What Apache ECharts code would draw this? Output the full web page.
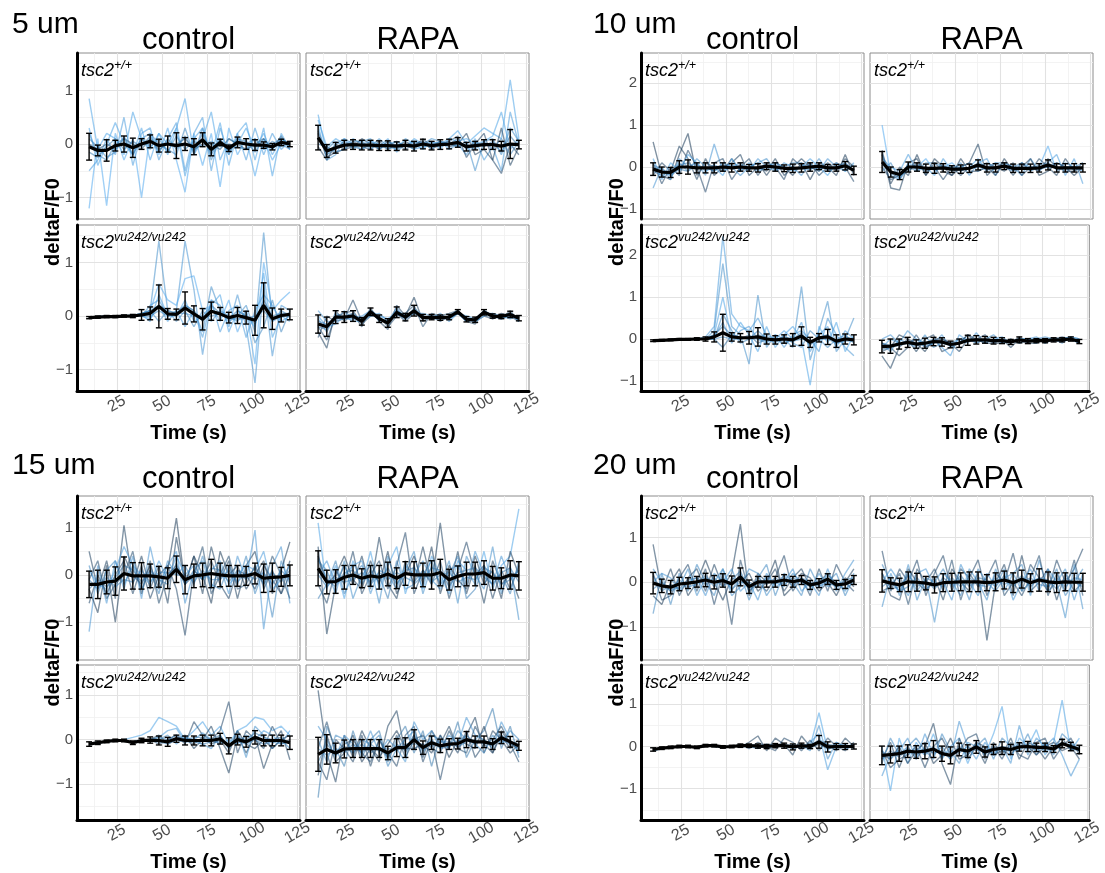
<!DOCTYPE html>
<html><head><meta charset="utf-8">
<script src="https://cdn.jsdelivr.net/npm/echarts@6/dist/echarts.min.js"></script>
<style>html,body{margin:0;padding:0;background:#fff}#c{width:1105px;height:873px}</style>
</head><body><div id="c"></div>
<script>
// ---------- shared axis data ----------
const times = [9.7, 14.5, 19.4, 24.2, 29.0, 33.9, 38.7, 43.5, 48.3, 53.2, 58.0, 62.8, 67.7, 72.5, 77.3, 82.2, 87.0, 91.8, 96.6, 101.5, 106.3, 111.1, 116.0, 120.8];
const xRange = [3, 126.4];
const xTicks = [25, 50, 75, 100, 125];
const xMinorTicks = [12.5, 37.5, 62.5, 87.5, 112.5];
const yRange_5 = [-1.40, 1.70], yTicks_5 = [-1, 0, 1], yMinor_5 = [-0.5, 0.5, 1.5];
const yRange_10 = [-1.24, 2.72], yTicks_10 = [-1, 0, 1, 2], yMinor_10 = [-0.5, 0.5, 1.5, 2.5];
const yRange_15 = [-1.80, 1.67], yTicks_15 = [-1, 0, 1], yMinor_15 = [-1.5, -0.5, 0.5, 1.5];
const yRange_20 = [-1.74, 1.93], yTicks_20 = [-1, 0, 1], yMinor_20 = [-1.5, -0.5, 0.5, 1.5];
const panelNames = ['5 um', '10 um', '15 um', '20 um'];
const colNames = ['control', 'RAPA'];

// ---------- 5 um ----------
const u5_ctrl_wt_mean = [-0.05,-0.12,-0.12,-0.03,0.0,-0.07, 0.0,0.05,-0.03,0.0,-0.03,0.0, -0.05,0.08,-0.1,0.03,-0.08,0.03, 0.0,-0.02,-0.02,-0.05,0.03,0.0];
const u5_ctrl_wt_err = [0.25,0.1,0.2,0.1,0.15,0.18, 0.1,0.12,0.12,0.15,0.24,0.12, 0.15,0.13,0.12,0.06,0.06,0.1, 0.1,0.1,0.06,0.06,0.06,0.05];
const u5_ctrl_wt_tone = [0.9,0.95,0.85,0.7,0.3,0.9,0.6,0.7];
const u5_ctrl_wt_lines = [
 [0.85,-0.1,0.2,0.1,-0.2,0.6, 0.1,-0.1,0.2,0.0,0.3,0.85, -0.2,0.1,0.6,-0.3,0.1,0.0, 0.3,-0.1,0.2,-0.2,0.1,0.0],
 [-1.2,0.1,-1.15,0.2,-0.3,0.1, -1.0,0.2,-0.2,0.3,-0.3,-0.9, 0.2,-0.4,0.2,-0.8,0.3,-0.2, 0.1,-0.6,0.1,-0.3,0.0,-0.1],
 [-0.5,-0.3,0.1,-0.2,0.5,-0.4, 0.2,0.3,-0.3,0.1,0.4,-0.5, 0.2,0.5,-0.5,0.3,-0.2,0.2, -0.3,0.3,-0.2,0.2,-0.1,0.05],
 [0.2,-0.2,-0.3,0.0,0.1,-0.2, 0.1,0.2,0.0,-0.1,-0.2,0.3, -0.2,0.3,-0.3,0.1,-0.2,0.1, 0.0,0.1,-0.1,0.0,0.1,-0.05],
 [0.0,-0.1,0.0,-0.1,0.1,0.0, -0.1,0.1,-0.1,0.0,0.0,0.1, -0.1,0.0,0.0,-0.1,0.1,0.0, -0.1,0.0,0.1,-0.1,0.15,-0.1],
 [0.3,-0.4,0.0,0.4,0.0,-0.2, 0.3,-0.3,0.2,-0.2,0.3,-0.6, 0.1,0.3,-0.2,0.4,-0.4,0.2, 0.4,-0.3,0.3,-0.6,0.2,-0.1],
 [-0.15,-0.25,-0.05,0.1,-0.1,0.05, -0.05,0.15,-0.15,0.1,-0.1,0.15, -0.15,0.2,-0.2,0.1,-0.15,0.1, 0.05,-0.15,0.1,-0.1,0.1,0.0],
 [0.1,-0.05,-0.25,-0.15,0.15,-0.2, 0.1,-0.05,0.1,-0.15,0.15,-0.1, 0.05,-0.05,0.05,-0.05,0.0,-0.05, -0.1,0.1,-0.1,0.05,-0.05,0.05]
];
const u5_rapa_wt_mean = [0.12,-0.13,-0.07,-0.02,-0.01,-0.02, -0.02,-0.03,-0.03,-0.04,-0.02,-0.04, 0.0,-0.03,-0.01,0.0,0.03,-0.05, -0.03,-0.01,-0.01,-0.04,0.0,-0.01];
const u5_rapa_wt_err = [0.23,0.12,0.1,0.09,0.09,0.09, 0.09,0.09,0.09,0.08,0.09,0.09, 0.09,0.08,0.09,0.09,0.09,0.08, 0.08,0.09,0.09,0.09,0.27,0.08];
const u5_rapa_wt_tone = [0.9,0.85,0.2,0.75,0.15,0.9,0.55,0.65];
const u5_rapa_wt_lines = [
 [0.55,-0.2,0.0,0.1,-0.1,0.05, 0.1,-0.1,0.0,0.05,-0.05,0.1, 0.0,0.05,-0.1,0.1,0.25,0.0, 0.15,0.3,0.2,0.1,1.2,0.1],
 [0.35,-0.3,-0.2,0.1,0.0,-0.1, 0.0,-0.05,0.1,-0.15,0.0,-0.1, -0.05,0.0,0.05,-0.1,0.0,-0.2, 0.1,-0.3,-0.05,-0.5,0.6,0.0],
 [0.2,-0.25,-0.15,-0.1,0.05,-0.05, -0.1,0.05,-0.1,0.0,-0.1,0.0, 0.05,-0.1,0.0,0.05,0.15,-0.25, 0.0,0.2,-0.3,-0.55,0.0,-0.2],
 [0.1,-0.1,0.05,-0.05,0.1,0.0, -0.05,0.1,-0.05,0.05,-0.05,0.05, 0.0,0.1,0.05,0.0,-0.05,0.05, -0.5,0.05,0.1,-0.2,0.3,0.05],
 [-0.05,-0.3,0.0,-0.1,-0.05,0.1, 0.0,-0.1,0.05,-0.05,0.05,-0.05, 0.1,-0.05,0.05,-0.05,0.0,0.2, -0.2,-0.1,-0.3,0.3,-0.4,-0.05],
 [0.45,-0.05,0.1,0.0,-0.05,0.0, 0.05,0.0,-0.05,-0.1,0.1,0.0, -0.1,0.05,0.0,0.1,0.05,0.1, 0.0,0.05,0.15,0.6,-0.1,0.1],
 [0.25,-0.2,-0.1,0.05,-0.05,-0.1, 0.05,-0.1,0.05,-0.1,0.0,-0.1, 0.05,-0.1,0.05,0.0,0.1,-0.1, 0.05,-0.05,0.05,-0.15,0.15,-0.05],
 [0.0,-0.05,-0.15,-0.1,0.05,0.05, -0.1,0.0,-0.1,0.0,-0.05,0.05, -0.05,0.0,-0.05,0.05,-0.05,0.0, -0.1,0.05,-0.1,0.1,-0.2,0.05]
];
const u5_ctrl_vu_mean = [-0.03,-0.02,-0.01,-0.01,0.0,0.0, 0.02,0.05,0.18,0.04,0.03,0.15, 0.04,-0.06,0.09,0.04,-0.03,0.01, -0.03,-0.08,0.2,-0.05,0.01,0.03];
const u5_ctrl_vu_err = [0.02,0.02,0.02,0.02,0.02,0.03, 0.1,0.12,0.4,0.1,0.1,0.3, 0.15,0.2,0.17,0.12,0.1,0.15, 0.12,0.28,0.42,0.2,0.12,0.1];
const u5_ctrl_vu_tone = [0.75,0.8,0.95,0.85,0.7,0.9,0.6,0.7];
const u5_ctrl_vu_lines = [
 [-0.03,-0.02,-0.01,0.0,0.0,0.01, 0.05,0.1,1.4,0.1,0.05,0.2, 0.1,-0.3,0.55,0.1,-0.1,0.0, 0.2,-0.3,1.56,-0.1,0.1,0.0],
 [-0.02,-0.01,0.0,0.0,0.01,0.0, 0.0,0.2,0.3,0.0,0.1,1.4, 0.5,-0.72,0.3,0.2,-0.2,0.4, -0.2,-1.25,0.6,-0.75,0.2,0.1],
 [-0.04,-0.02,-0.02,-0.01,0.0,0.0, 0.05,0.1,0.6,0.3,0.2,0.7, 0.75,0.1,0.2,-0.1,0.3,-0.3, 0.1,-0.9,1.0,0.1,0.3,0.45],
 [-0.03,-0.03,-0.01,0.0,0.0,0.02, 0.0,-0.05,0.2,-0.1,0.1,-0.2, 0.1,-0.4,0.3,-0.3,0.1,0.2, -0.4,0.1,0.4,0.2,-0.1,0.0],
 [-0.02,-0.02,0.0,0.0,0.0,0.0, 0.03,0.1,-0.1,0.1,-0.1,0.1, -0.2,0.1,-0.1,0.1,0.0,-0.1, 0.1,-0.5,-0.2,0.3,-0.3,0.1],
 [-0.03,-0.01,-0.01,0.0,0.01,0.0, 0.02,-0.1,0.4,0.0,0.0,0.3, -0.1,0.0,0.2,0.4,-0.3,0.1, 0.0,-0.2,0.8,-0.4,0.0,-0.1],
 [-0.03,-0.02,-0.01,0.0,0.0,0.0, 0.05,0.1,0.2,0.1,0.05,0.2, 0.1,-0.1,0.2,0.05,-0.05,0.1, 0.0,-0.15,0.3,0.0,0.05,0.05],
 [-0.02,-0.02,-0.01,-0.01,0.0,0.01, 0.0,0.0,0.1,0.0,0.05,0.05, 0.0,0.0,0.0,0.05,-0.05,-0.05, -0.05,0.0,0.1,-0.1,0.0,0.0]
];
const u5_rapa_vu_mean = [-0.15,-0.2,-0.02,-0.02,0.0,-0.1, 0.08,-0.05,-0.13,0.07,-0.02,0.1, -0.03,-0.02,-0.03,-0.02,0.08,-0.06, -0.07,0.07,0.0,-0.01,0.03,-0.04];
const u5_rapa_vu_err = [0.17,0.18,0.12,0.1,0.1,0.07, 0.07,0.07,0.08,0.1,0.07,0.1, 0.06,0.05,0.05,0.05,0.04,0.05, 0.05,0.05,0.04,0.04,0.06,0.05];
const u5_rapa_vu_tone = [0.15,0.8,0.25,0.7,0.2,0.85,0.55,0.65];
const u5_rapa_vu_lines = [
 [-0.3,-0.6,0.1,-0.1,0.05,-0.2, 0.15,-0.1,-0.25,0.2,0.0,0.35, -0.1,0.0,-0.1,0.0,0.1,-0.1, -0.15,0.1,0.0,-0.05,0.1,-0.1],
 [0.1,-0.1,-0.1,0.1,-0.05,0.0, 0.1,0.0,-0.05,0.05,-0.05,0.05, 0.0,-0.05,0.05,-0.1,0.05,0.0, -0.05,0.05,0.05,0.0,-0.05,0.0],
 [-0.2,-0.45,0.0,0.05,0.1,-0.15, 0.0,0.0,-0.2,0.0,0.05,0.2, -0.2,0.05,0.0,0.05,0.1,-0.05, -0.1,0.0,-0.05,0.05,0.0,-0.1],
 [-0.05,-0.3,0.05,-0.05,0.0,-0.05, 0.1,-0.1,-0.1,0.15,-0.05,0.15, 0.0,-0.05,-0.05,0.0,0.1,-0.1, -0.05,0.1,0.0,0.0,0.05,-0.05],
 [-0.4,0.0,-0.1,-0.05,0.3,-0.1, 0.05,-0.05,-0.1,0.05,-0.1,0.05, -0.05,0.0,-0.05,-0.05,0.05,-0.1, -0.1,0.1,-0.05,0.0,0.0,-0.05],
 [0.0,-0.2,-0.15,0.0,-0.1,-0.1, 0.0,0.05,-0.1,0.1,0.0,0.05, 0.05,0.0,0.0,-0.05,0.05,-0.05, -0.1,0.0,0.05,-0.05,0.05,-0.1],
 [-0.2,-0.25,0.0,0.0,0.05,-0.1, 0.1,-0.05,-0.15,0.1,0.0,0.1, -0.05,0.0,-0.05,0.0,0.1,-0.05, -0.1,0.1,0.0,0.0,0.05,-0.05],
 [-0.1,-0.15,-0.05,-0.05,-0.05,-0.1, 0.05,-0.05,-0.1,0.05,-0.05,0.1, 0.0,-0.05,0.0,-0.05,0.05,-0.1, -0.05,0.05,0.0,-0.05,0.0,-0.05]
];

// ---------- 10 um ----------
const u10_ctrl_wt_mean = [-0.05,-0.12,-0.13,0.0,0.0,-0.02, -0.02,-0.02,0.0,-0.02,0.0,-0.02, -0.02,0.02,0.0,-0.03,-0.03,-0.02, 0.0,0.02,-0.02,-0.02,0.03,-0.08];
const u10_ctrl_wt_err = [0.15,0.12,0.12,0.15,0.17,0.12, 0.12,0.12,0.1,0.1,0.1,0.08, 0.1,0.08,0.1,0.08,0.1,0.1, 0.1,0.08,0.08,0.08,0.1,0.1];
const u10_ctrl_wt_tone = [0.1,0.8,0.2,0.75,0.15,0.9,0.55,0.65];
const u10_ctrl_wt_lines = [
 [0.6,-0.2,-0.3,0.3,0.8,-0.2, 0.1,0.0,-0.1,0.2,-0.1,0.0, 0.1,-0.2,0.1,0.0,-0.2,0.1, -0.3,0.1,0.0,-0.2,0.3,-0.2],
 [-0.5,0.0,-0.3,0.2,0.0,0.1, -0.2,0.55,-0.1,0.0,0.1,-0.1, 0.2,0.0,-0.1,0.1,0.0,-0.2, 0.1,-0.1,0.2,0.0,-0.1,0.1],
 [0.1,-0.4,0.0,-0.2,0.4,0.0, -0.6,0.1,0.2,-0.3,0.0,0.2, -0.2,0.1,0.0,-0.3,0.2,0.0, 0.1,-0.2,0.0,0.1,0.0,-0.35],
 [0.0,-0.1,-0.2,0.1,-0.1,0.2, 0.0,-0.1,0.1,0.0,-0.2,0.0, 0.1,0.2,-0.1,0.0,0.1,0.1, -0.1,0.2,-0.1,0.0,0.1,-0.1],
 [-0.2,0.1,-0.1,0.5,0.2,-0.3, 0.2,-0.2,0.0,0.1,0.3,-0.2, 0.0,-0.1,0.2,-0.2,0.0,0.2, 0.0,-0.1,0.1,-0.1,0.2,0.0],
 [0.2,-0.3,0.1,-0.1,0.3,0.1, -0.1,0.0,-0.2,0.2,-0.1,0.1, -0.1,0.0,0.1,0.0,-0.1,0.0, 0.2,0.0,-0.2,0.1,-0.1,0.05],
 [-0.1,-0.2,-0.1,0.05,0.1,-0.05, 0.0,-0.1,0.05,-0.05,0.05,-0.05, 0.0,0.05,-0.05,0.0,-0.05,0.0, 0.05,-0.05,0.0,-0.05,0.1,-0.1],
 [0.05,-0.05,-0.2,-0.05,-0.1,0.05, -0.05,0.05,-0.05,0.05,-0.05,0.0, -0.05,0.0,0.05,-0.05,0.0,-0.05, -0.05,0.05,-0.05,0.0,0.0,-0.05]
];
const u10_rapa_wt_mean = [0.12,-0.12,-0.18,0.0,0.0,-0.03, -0.03,-0.02,-0.05,-0.05,-0.03,0.05, -0.02,-0.02,0.02,-0.03,-0.03,-0.03, -0.02,0.05,-0.02,-0.02,-0.02,-0.02];
const u10_rapa_wt_err = [0.25,0.12,0.12,0.12,0.1,0.1, 0.12,0.1,0.08,0.1,0.1,0.12, 0.1,0.1,0.08,0.1,0.1,0.1, 0.1,0.12,0.1,0.1,0.1,0.1];
const u10_rapa_wt_tone = [0.95,0.15,0.85,0.2,0.7,0.1,0.55,0.65];
const u10_rapa_wt_lines = [
 [1.0,-0.2,-0.3,0.1,0.0,0.2, -0.1,0.0,0.1,-0.1,0.0,0.2, -0.1,0.1,0.0,-0.1,0.1,0.0, 0.0,0.5,-0.1,0.1,0.0,-0.1],
 [0.4,-0.5,-0.55,0.1,0.2,-0.2, 0.1,-0.1,-0.2,0.0,0.1,0.55, -0.2,0.0,0.1,-0.2,0.1,-0.1, 0.2,0.0,-0.2,0.2,-0.1,0.0],
 [0.2,0.0,-0.1,0.3,-0.1,0.0, -0.2,0.2,-0.1,0.1,-0.2,0.1, 0.2,-0.2,0.1,0.0,-0.2,0.2, -0.1,0.1,0.3,-0.2,0.2,-0.4],
 [0.0,-0.3,-0.2,-0.1,0.1,-0.1, 0.0,-0.3,0.0,-0.2,0.0,0.0, 0.1,0.0,-0.1,0.1,-0.2,0.0, -0.1,0.2,0.0,-0.1,-0.1,0.1],
 [-0.1,0.1,-0.3,0.0,-0.1,0.1, 0.1,0.0,0.0,0.0,0.1,-0.1, 0.0,0.1,0.1,0.0,0.1,-0.1, 0.0,0.0,0.1,0.0,0.0,0.1],
 [0.3,-0.4,0.0,-0.2,0.3,-0.2, 0.2,0.0,-0.2,0.2,-0.1,-0.1, 0.0,-0.2,0.2,-0.1,0.0,0.2, -0.2,-0.1,0.1,0.0,-0.2,0.0],
 [0.3,-0.15,-0.25,0.05,-0.05,0.0, -0.05,0.05,-0.1,0.0,-0.05,0.1, 0.0,-0.05,0.05,-0.05,0.0,-0.05, 0.05,0.1,-0.05,0.0,0.0,-0.05],
 [0.05,-0.1,-0.15,-0.05,0.05,-0.05, 0.0,-0.05,0.0,-0.1,0.0,0.0, -0.05,0.0,0.0,-0.05,-0.05,0.0, -0.05,0.0,0.0,-0.05,-0.05,0.0]
];
const u10_ctrl_vu_mean = [-0.04,-0.03,-0.02,-0.01,-0.01,0.0, 0.0,0.05,0.15,0.05,0.03,0.03, 0.05,0.0,-0.02,0.0,-0.02,0.07, -0.08,0.03,0.05,-0.05,0.0,-0.02];
const u10_ctrl_vu_err = [0.02,0.02,0.02,0.02,0.02,0.03, 0.05,0.12,0.44,0.1,0.1,0.15, 0.22,0.12,0.1,0.1,0.15,0.22, 0.12,0.1,0.18,0.15,0.12,0.12];
const u10_ctrl_vu_tone = [0.85,0.75,0.9,0.8,0.7,0.5,0.6,0.7];
const u10_ctrl_vu_lines = [
 [-0.04,-0.03,-0.02,-0.01,0.0,0.0, 0.05,0.3,2.45,0.6,0.3,0.2, 0.5,0.1,0.0,0.2,0.0,0.4, -0.3,0.1,0.3,-0.2,0.2,0.0],
 [-0.03,-0.03,-0.01,0.0,0.0,0.01, 0.0,0.2,1.8,0.3,0.1,-0.6, 1.05,-0.2,0.1,0.0,-0.2,1.25, -0.5,0.2,0.9,-0.3,0.0,0.5],
 [-0.05,-0.02,-0.02,-0.01,0.0,0.0, 0.02,0.1,1.0,0.0,0.4,0.1, -0.3,0.3,-0.2,0.1,0.3,0.0, -1.1,0.3,-0.1,0.4,-0.3,0.1],
 [-0.04,-0.02,-0.01,0.0,0.0,0.0, 0.0,0.05,0.4,-0.1,0.2,0.3, 0.0,-0.1,0.1,-0.2,0.1,0.2, 0.0,-0.3,0.5,0.1,-0.2,-0.4],
 [-0.03,-0.03,-0.02,-0.01,0.0,0.0, 0.01,0.0,0.6,0.2,-0.1,0.0, 0.2,0.0,-0.1,0.1,-0.1,-0.2, 0.2,0.0,-0.2,0.0,0.1,-0.1],
 [-0.04,-0.03,-0.02,-0.01,-0.01,0.0, 0.0,0.0,-0.2,0.1,0.0,0.1, -0.1,0.0,0.0,-0.1,0.0,0.1, -0.1,0.0,0.1,-0.1,0.0,0.0],
 [-0.04,-0.03,-0.02,-0.01,-0.01,0.0, 0.0,0.1,0.3,0.1,0.05,0.0, 0.1,0.05,-0.05,0.05,0.0,0.15, -0.15,0.05,0.1,-0.05,0.05,0.0],
 [-0.04,-0.03,-0.02,-0.01,0.0,0.0, 0.0,0.0,0.05,0.0,0.0,0.05, 0.0,-0.05,0.0,-0.05,-0.05,0.0, -0.05,0.0,0.0,-0.1,-0.05,-0.05]
];
const u10_rapa_vu_mean = [-0.18,-0.17,-0.12,-0.08,-0.12,-0.1, -0.06,-0.07,-0.13,-0.1,-0.03,-0.02, -0.02,-0.04,-0.04,-0.07,-0.02,-0.05, -0.04,-0.04,-0.02,-0.02,0.0,-0.06];
const u10_rapa_vu_err = [0.15,0.17,0.12,0.12,0.1,0.12, 0.1,0.1,0.08,0.1,0.12,0.1, 0.08,0.08,0.07,0.06,0.07,0.06, 0.05,0.05,0.05,0.05,0.05,0.05];
const u10_rapa_vu_tone = [0.15,0.8,0.2,0.75,0.85,0.1,0.55,0.65];
const u10_rapa_vu_lines = [
 [-0.4,-0.7,-0.2,0.0,-0.3,0.0, 0.1,-0.3,-0.2,-0.1,0.1,-0.1, 0.0,-0.1,0.0,-0.2,0.0,-0.1, -0.1,0.0,-0.05,0.0,0.05,-0.1],
 [0.0,0.1,-0.1,0.2,0.0,-0.2, -0.1,0.1,-0.2,0.0,-0.1,0.15, -0.1,0.0,-0.1,0.0,-0.1,0.0, 0.0,0.05,0.0,-0.1,0.05,0.0],
 [-0.3,-0.2,-0.4,-0.2,0.1,-0.2, -0.1,0.0,-0.1,-0.3,0.0,0.0, 0.1,-0.1,0.0,-0.1,0.05,-0.1, 0.0,-0.1,0.0,0.05,0.0,-0.05],
 [-0.1,-0.3,0.0,-0.1,-0.2,0.1, -0.2,-0.1,-0.1,0.0,0.0,-0.1, 0.0,0.1,-0.1,-0.05,0.0,0.0, -0.1,0.0,0.0,0.0,0.0,-0.1],
 [-0.2,0.0,-0.1,-0.1,0.0,-0.1, 0.0,-0.2,-0.4,0.1,-0.05,0.0, -0.1,0.0,0.05,-0.1,0.0,0.0, 0.05,-0.1,0.0,0.0,0.05,0.0],
 [-0.1,-0.2,0.1,0.0,-0.1,-0.3, 0.0,0.0,-0.1,-0.1,0.1,0.0, -0.1,-0.1,-0.1,0.0,-0.1,-0.05, 0.0,0.0,-0.05,-0.05,0.0,-0.1],
 [-0.25,-0.2,-0.15,-0.1,-0.15,-0.1, -0.05,-0.1,-0.15,-0.1,-0.05,0.0, -0.05,-0.05,-0.05,-0.1,0.0,-0.05, -0.05,-0.05,0.0,-0.05,0.0,-0.05],
 [-0.1,-0.15,-0.1,-0.05,-0.1,-0.15, -0.1,-0.05,-0.1,-0.1,-0.05,-0.05, 0.0,-0.05,-0.05,-0.05,-0.05,-0.05, -0.05,-0.05,-0.05,0.0,0.0,-0.1]
];

// ---------- 15 um ----------
const u15_ctrl_wt_mean = [-0.2,-0.2,-0.15,-0.13,0.03,-0.02, -0.02,-0.02,-0.04,-0.07,0.12,-0.1, -0.02,0.0,0.03,0.0,-0.02,-0.02, -0.02,0.03,-0.07,-0.05,-0.04,-0.01];
const u15_ctrl_wt_err = [0.28,0.3,0.25,0.3,0.35,0.28, 0.28,0.25,0.22,0.22,0.28,0.3, 0.25,0.25,0.3,0.25,0.22,0.22, 0.2,0.22,0.3,0.3,0.2,0.22];
const u15_ctrl_wt_tone = [0.15,0.8,0.1,0.7,0.2,0.85,0.25,0.55,0.65];
const u15_ctrl_wt_lines = [
 [0.5,-0.3,0.3,-0.5,1.05,-0.2, 0.4,-0.3,0.2,-0.6,0.8,-0.2, 0.4,-0.4,0.6,-0.1,0.3,-0.5, 0.2,0.5,-0.3,0.1,-0.4,0.3],
 [-1.2,0.2,-0.6,0.3,-0.3,0.4, -0.5,0.6,-0.2,0.2,0.5,-0.6, 0.1,0.3,-0.3,0.2,-0.4,0.4, -0.1,0.95,-1.15,0.2,0.6,-0.6],
 [-0.3,-0.8,0.2,-1.0,0.4,0.0, -0.2,0.2,-0.3,0.1,1.2,-0.2, 0.4,0.0,-0.6,0.5,0.0,0.2, -0.3,0.0,0.3,-0.4,0.1,0.7],
 [0.2,-0.4,0.1,0.3,-0.2,0.2, -0.3,0.1,-0.4,0.3,0.0,0.2, -0.2,0.4,-0.2,-0.3,0.2,-0.2, 0.4,-0.4,0.1,-0.9,0.3,-0.2],
 [-0.6,0.0,-0.4,0.0,0.3,-0.4, 0.2,-0.5,0.0,0.2,-0.3,-1.28, 0.1,-0.1,0.3,-0.2,-0.5,0.1, 0.0,-0.3,0.2,-0.1,-0.4,0.0],
 [0.1,-0.2,-0.3,0.1,0.6,0.2, 0.0,-0.2,0.3,-0.1,0.4,0.0, 0.2,-0.1,0.1,0.3,-0.2,0.0, 0.2,0.1,0.5,-0.3,-0.1,0.2],
 [-0.1,0.3,-0.5,-0.2,0.0,0.5, -0.4,0.3,-0.6,0.0,0.2,-0.2, 0.0,0.6,-0.4,0.0,0.4,-0.3, -0.2,0.2,-0.2,0.4,0.0,-0.5],
 [-0.3,-0.1,-0.25,-0.05,0.2,0.1, -0.15,0.1,-0.1,-0.2,0.25,-0.2, 0.1,-0.1,0.15,0.1,-0.15,0.1, -0.1,0.15,-0.2,0.05,-0.15,0.1],
 [-0.1,-0.3,-0.05,-0.25,-0.1,-0.15, 0.1,-0.15,0.05,0.05,0.0,0.0, -0.15,0.1,-0.1,-0.1,0.1,-0.15, 0.05,-0.1,0.05,-0.2,0.1,-0.1]
];
const u15_rapa_wt_mean = [0.14,-0.15,-0.14,-0.05,0.0,-0.07, -0.02,-0.05,0.02,-0.07,0.03,0.0, 0.0,0.0,0.05,-0.1,-0.03,0.02, 0.02,0.05,-0.07,-0.07,0.0,-0.02];
const u15_rapa_wt_err = [0.37,0.25,0.25,0.25,0.2,0.2, 0.22,0.25,0.25,0.22,0.25,0.28, 0.25,0.3,0.28,0.22,0.22,0.25, 0.25,0.25,0.25,0.22,0.3,0.3];
const u15_rapa_wt_tone = [0.9,0.15,0.75,0.2,0.8,0.1,0.65,0.55,0.6];
const u15_rapa_wt_lines = [
 [1.1,-0.3,0.2,-0.5,0.3,-0.2, 0.5,-0.3,0.2,0.6,-0.4,0.2, -0.3,0.4,0.0,-0.4,0.3,0.1, -0.2,0.5,-0.3,0.2,0.4,1.4],
 [0.6,-1.25,-0.2,0.2,-0.2,0.4, -0.3,0.8,-0.2,-0.5,0.3,-0.2, 0.6,-0.2,1.1,-0.3,0.5,-0.4, 0.2,-0.6,0.3,-0.2,0.0,-0.5],
 [0.3,0.1,-0.4,0.3,-0.5,0.0, 0.2,-0.6,0.4,-0.2,0.1,0.5, -0.4,0.2,-0.2,0.3,-0.6,0.4, 0.0,-0.3,0.6,-0.4,0.2,-0.95],
 [-0.2,-0.6,0.1,-0.2,0.5,-0.4, 0.0,0.3,-0.3,0.2,0.9,-0.4, 0.1,-0.2,0.3,-0.5,0.1,0.7, 0.0,0.2,-0.5,0.1,-0.3,0.2],
 [0.0,0.3,-0.2,0.0,0.2,0.3, -0.4,0.1,0.0,-0.3,0.2,0.0, 0.3,-0.1,-0.3,0.1,0.2,-0.2, 0.5,0.0,-0.2,0.4,-0.1,0.1],
 [0.4,-0.2,0.0,0.4,-0.1,-0.3, 0.3,-0.2,0.5,-0.4,0.0,0.4, -0.2,0.6,-0.4,0.2,-0.1,-0.3, 0.4,-0.2,0.1,-0.5,0.5,0.0],
 [-0.5,-0.2,0.3,-0.4,0.0,0.2, -0.2,0.0,-0.5,0.3,-0.3,-0.2, 0.0,0.3,-0.2,0.0,0.4,-0.5, -0.3,0.2,-0.1,0.0,-0.4,0.3],
 [0.35,-0.1,-0.25,0.05,0.1,-0.2, 0.1,-0.15,0.15,-0.2,0.1,0.15, -0.1,0.15,0.1,-0.25,0.05,0.1, 0.15,-0.05,-0.2,0.05,0.15,-0.15],
 [0.0,-0.25,-0.05,-0.15,-0.1,0.05, -0.15,0.05,-0.1,0.05,-0.05,-0.15, 0.1,-0.15,0.0,0.05,-0.15,-0.05, -0.1,0.15,0.05,-0.2,-0.1,0.1]
];
const u15_ctrl_vu_mean = [-0.1,-0.07,-0.04,-0.02,-0.02,-0.07, -0.02,-0.01,-0.02,-0.05,0.02,-0.02, -0.02,-0.02,-0.02,0.02,-0.14,0.0, -0.05,0.05,-0.02,-0.02,-0.02,-0.07];
const u15_ctrl_vu_err = [0.05,0.04,0.03,0.03,0.03,0.04, 0.05,0.07,0.1,0.1,0.08,0.1, 0.1,0.12,0.12,0.12,0.18,0.12, 0.12,0.15,0.12,0.12,0.12,0.15];
const u15_ctrl_vu_tone = [0.9,0.2,0.15,0.75,0.85,0.1,0.55,0.65];
const u15_ctrl_vu_lines = [
 [-0.12,-0.08,-0.05,-0.02,0.0,0.05, 0.1,0.2,0.5,0.4,0.3,0.0, 0.2,0.4,0.1,0.3,-0.1,0.2, 0.3,0.5,0.45,0.2,0.3,0.1],
 [-0.08,-0.05,-0.03,0.0,-0.02,-0.05, 0.0,0.0,-0.1,0.0,0.1,-0.1, 0.4,0.1,0.0,0.2,0.85,-0.3, 0.2,0.0,-0.2,0.3,-0.1,0.0],
 [-0.1,-0.06,-0.04,-0.03,-0.02,-0.08, -0.05,0.0,0.1,-0.1,0.0,0.1, -0.2,0.0,0.3,-0.2,-0.75,0.1, -0.3,0.1,-0.65,-0.1,0.2,-0.45],
 [-0.1,-0.07,-0.04,-0.02,-0.03,-0.06, 0.0,-0.05,0.0,0.1,-0.1,0.05, 0.0,-0.1,-0.2,0.1,-0.2,0.2, -0.4,0.3,0.1,-0.2,0.0,-0.2],
 [-0.09,-0.08,-0.05,-0.03,-0.01,-0.07, -0.04,0.0,0.05,0.2,0.25,-0.05, 0.0,0.15,0.0,-0.1,0.0,-0.1, 0.1,0.0,0.2,0.1,-0.1,0.2],
 [-0.11,-0.06,-0.04,-0.02,-0.02,-0.06, -0.02,-0.02,0.0,-0.05,0.05,0.0, -0.1,0.05,-0.1,0.0,-0.3,0.2, -0.1,-0.2,0.0,-0.2,0.0,0.1],
 [-0.1,-0.07,-0.04,-0.02,-0.02,-0.07, 0.0,0.0,0.05,0.0,0.1,0.0, 0.05,0.05,0.0,0.1,-0.2,0.05, 0.0,0.15,0.05,0.0,0.05,-0.1],
 [-0.09,-0.06,-0.04,-0.02,-0.01,-0.06, -0.03,-0.02,-0.05,-0.1,0.0,-0.05, -0.05,-0.1,-0.05,-0.05,-0.1,-0.05, -0.1,0.0,-0.1,-0.05,-0.1,-0.05]
];
const u15_rapa_vu_mean = [-0.33,-0.22,-0.3,-0.21,-0.2,-0.2, -0.2,-0.2,-0.3,-0.18,-0.18,0.0, -0.18,-0.07,-0.14,-0.1,-0.09,0.0, -0.05,-0.05,-0.1,0.04,-0.05,-0.14];
const u15_rapa_vu_err = [0.38,0.33,0.22,0.2,0.2,0.2, 0.2,0.2,0.15,0.2,0.22,0.22, 0.15,0.15,0.15,0.12,0.12,0.18, 0.13,0.13,0.12,0.13,0.12,0.1];
const u15_rapa_vu_tone = [0.15,0.6,0.2,0.8,0.1,0.7,0.25,0.55,0.65];
const u15_rapa_vu_lines = [
 [1.1,-0.3,-0.95,0.1,-0.4,0.2, -0.2,-0.5,0.3,0.65,-0.3,0.1, -0.4,0.2,-0.1,0.3,-0.2,0.1, 0.5,-0.3,0.2,0.0,-0.3,-0.1],
 [-1.3,0.3,-0.2,-0.6,0.2,-0.4, 0.0,0.2,-0.5,0.0,0.3,-0.3, 0.2,-0.6,0.1,-0.2,0.4,-0.4, 0.0,0.2,0.7,-0.2,0.3,-0.4],
 [-0.5,-0.9,0.0,-0.2,-0.5,0.1, -0.6,0.0,-0.3,-0.6,0.1,0.3, -0.5,0.0,-0.9,0.0,-0.3,0.2, -0.4,-0.1,-0.3,0.1,-0.2,0.0],
 [0.3,0.0,-0.4,0.1,-0.1,-0.3, 0.2,-0.3,0.0,-0.2,-0.5,0.4, 0.0,0.2,-0.2,0.1,-0.1,0.5, 0.1,0.0,-0.2,0.4,0.0,-0.3],
 [-0.8,0.1,-0.5,-0.3,0.1,-0.5, -0.2,-0.4,-0.1,0.2,-0.2,-0.2, -0.1,-0.3,0.1,-0.4,0.0,-0.1, -0.2,0.3,-0.3,0.2,-0.1,-0.2],
 [0.0,-0.5,0.1,0.0,-0.3,0.0, -0.1,0.1,-0.6,-0.2,0.0,0.2, -0.3,0.1,0.0,-0.2,0.2,0.0, -0.1,-0.3,0.1,-0.1,0.2,0.0],
 [-0.2,0.4,-0.3,-0.1,0.0,-0.3, -0.5,0.0,-0.4,0.1,-0.4,0.0, 0.1,-0.2,-0.3,0.2,-0.2,-0.3, 0.3,-0.1,0.0,0.3,-0.1,-0.5],
 [-0.5,-0.1,-0.35,-0.15,-0.3,-0.1, -0.3,-0.15,-0.4,-0.1,-0.25,0.1, -0.25,0.0,-0.2,-0.15,-0.05,0.1, -0.1,0.0,-0.15,0.1,-0.05,-0.2],
 [-0.2,-0.35,-0.2,-0.3,-0.1,-0.3, -0.1,-0.25,-0.2,-0.25,-0.1,-0.1, -0.1,-0.15,-0.05,-0.05,-0.15,-0.05, 0.0,-0.1,-0.05,0.0,-0.1,-0.1]
];

// ---------- 20 um ----------
const u20_ctrl_wt_mean = [-0.02,-0.08,-0.11,-0.04,-0.02,0.01, 0.05,0.0,0.04,-0.04,0.12,-0.1, 0.01,0.01,0.01,0.05,0.01,0.05, -0.06,-0.02,0.07,-0.06,-0.04,0.05];
const u20_ctrl_wt_err = [0.24,0.15,0.15,0.15,0.12,0.12, 0.15,0.15,0.15,0.18,0.2,0.15, 0.12,0.12,0.12,0.12,0.12,0.1, 0.1,0.1,0.12,0.1,0.1,0.1];
const u20_ctrl_wt_tone = [0.15,0.7,0.2,0.8,0.1,0.75,0.55,0.65];
const u20_ctrl_wt_lines = [
 [0.85,-0.2,0.3,-0.3,0.1,0.3, -0.2,0.4,-0.1,0.2,1.3,-0.3, 0.2,0.0,0.3,-0.2,0.1,0.3, -0.1,0.0,0.2,-0.1,0.0,0.3],
 [-0.7,0.2,-0.5,0.2,-0.2,0.4, 0.0,-0.3,0.3,-0.2,0.2,-0.4, 0.1,0.4,-0.3,0.2,0.0,-0.3, 0.3,-0.1,0.0,0.2,-0.3,0.1],
 [0.2,-0.4,-0.3,0.1,0.4,-0.2, 0.3,-0.5,0.2,-0.95,0.5,-0.2, 0.0,-0.2,0.1,0.6,-0.2,0.1, -0.3,0.3,-0.2,0.4,0.0,-0.2],
 [0.0,0.2,0.1,-0.2,0.0,0.1, -0.3,0.2,0.0,0.3,-0.2,0.0, -0.4,0.2,-0.1,0.0,0.3,-0.2, 0.0,-0.3,0.3,-0.2,0.2,0.5],
 [-0.3,-0.5,0.0,0.3,-0.3,0.0, 0.5,0.0,-0.4,0.1,0.0,0.2, -0.2,0.0,0.5,-0.3,-0.1,0.2, 0.1,-0.2,0.0,-0.3,0.1,-0.1],
 [0.3,0.0,-0.2,-0.1,0.3,-0.3, 0.1,0.0,0.3,-0.3,-0.1,0.3, 0.2,-0.3,0.0,-0.1,0.2,0.0, -0.2,0.2,-0.1,0.0,-0.2,0.2],
 [0.15,-0.2,-0.05,-0.15,0.05,0.1, -0.05,0.1,-0.1,0.05,0.25,-0.2, 0.1,-0.05,0.1,-0.05,0.1,0.0, -0.1,0.05,0.0,-0.1,0.05,0.1],
 [-0.15,0.0,-0.2,0.05,-0.1,-0.05, 0.15,-0.1,0.1,-0.15,0.0,0.0, -0.1,0.1,-0.05,0.15,-0.1,0.1, 0.0,-0.1,0.15,0.0,-0.15,0.0]
];
const u20_rapa_wt_mean = [0.03,-0.02,-0.06,0.01,0.0,-0.02, -0.06,-0.01,0.0,0.01,0.01,0.01, -0.01,0.01,0.05,-0.01,0.07,-0.01, 0.05,0.01,-0.01,0.01,0.0,0.0];
const u20_rapa_wt_err = [0.25,0.12,0.15,0.22,0.2,0.15, 0.18,0.2,0.2,0.2,0.22,0.22, 0.18,0.2,0.2,0.22,0.2,0.2, 0.25,0.22,0.22,0.2,0.2,0.2];
const u20_rapa_wt_tone = [0.2,0.75,0.15,0.8,0.25,0.7,0.55,0.65];
const u20_rapa_wt_lines = [
 [0.7,-0.2,0.3,0.0,0.5,-0.3, 0.2,0.6,-0.2,0.3,0.1,0.5, -0.3,0.2,0.0,0.65,-0.2,0.4, 0.1,-0.2,0.5,0.0,0.3,0.75],
 [-0.55,0.2,-0.3,0.4,-0.4,0.1, -0.9,0.2,0.0,-0.3,0.3,0.0, -0.4,0.3,-0.2,0.2,0.4,-0.3, 0.5,-0.2,0.0,-0.8,0.4,-0.6],
 [0.2,-0.3,-0.4,0.3,0.0,-0.2, 0.1,-0.4,0.3,0.0,-0.2,0.2, -1.3,0.0,0.4,-0.3,0.6,-0.2, 0.0,0.3,-0.4,0.2,-0.2,0.0],
 [0.0,0.3,0.0,-0.3,0.2,0.3, -0.1,0.0,-0.4,0.4,0.0,-0.3, 0.2,-0.1,0.3,-0.4,0.0,0.3, -0.2,0.3,0.0,0.3,-0.4,0.2],
 [-0.2,-0.1,0.2,-0.5,0.3,0.0, 0.3,-0.2,0.5,-0.4,0.2,-0.1, 0.1,0.5,-0.3,0.0,-0.3,0.1, 0.6,-0.3,0.2,-0.2,0.5,-0.3],
 [0.4,0.0,-0.2,0.2,-0.2,0.1, 0.0,0.3,-0.1,0.1,-0.4,0.3, 0.0,-0.2,0.1,0.2,-0.2,0.0, 0.1,-0.1,0.3,-0.3,0.0,0.3],
 [0.2,-0.15,-0.1,0.15,-0.1,0.05, -0.15,0.1,-0.05,0.15,-0.1,0.1, 0.05,-0.1,0.15,-0.1,0.15,-0.1, 0.1,0.05,-0.15,0.1,0.0,-0.1],
 [-0.1,0.05,-0.2,-0.1,0.1,-0.15, 0.0,-0.1,0.1,-0.1,0.1,-0.05, -0.1,0.1,-0.05,0.05,0.0,0.1, -0.05,-0.1,0.1,-0.1,0.1,0.05]
];
const u20_ctrl_vu_mean = [-0.07,-0.04,-0.02,0.0,0.0,-0.02, 0.02,0.02,-0.01,0.0,0.02,0.02, 0.01,0.0,0.02,0.02,-0.01,0.02, 0.0,0.11,-0.01,0.0,0.0,0.0];
const u20_ctrl_vu_err = [0.04,0.03,0.03,0.03,0.03,0.03, 0.03,0.03,0.03,0.03,0.04,0.04, 0.05,0.05,0.05,0.06,0.07,0.06, 0.05,0.15,0.12,0.07,0.07,0.06];
const u20_ctrl_vu_tone = [0.9,0.15,0.85,0.2,0.75,0.55,0.3];
const u20_ctrl_vu_lines = [
 [-0.1,-0.05,-0.03,0.0,0.0,-0.02, 0.02,0.0,-0.01,0.0,0.03,0.02, 0.0,0.05,0.0,0.03,-0.05,0.05, 0.0,0.8,-0.1,0.1,0.0,0.05],
 [-0.06,-0.04,-0.02,0.0,0.01,-0.03, 0.03,0.03,-0.02,0.0,0.0,0.1, 0.25,-0.1,0.2,0.05,-0.2,0.25, 0.0,0.1,0.05,-0.1,0.2,0.0],
 [-0.08,-0.05,-0.03,0.01,0.0,-0.02, 0.02,0.02,0.0,0.01,0.0,0.0, -0.05,0.05,0.02,0.0,0.05,-0.05, 0.1,0.3,-0.55,0.0,0.05,-0.05],
 [-0.07,-0.03,-0.02,0.0,0.0,-0.01, 0.01,0.03,0.0,0.0,0.05,-0.05, 0.1,0.0,-0.1,0.2,0.1,-0.1, 0.15,-0.1,0.2,0.0,-0.1,0.1],
 [-0.09,-0.04,-0.01,0.0,0.0,-0.02, 0.03,0.01,-0.02,0.0,0.02,0.03, 0.02,-0.03,0.0,0.05,0.0,0.02, -0.1,0.5,-0.3,0.1,-0.05,0.0],
 [-0.08,-0.04,-0.02,0.0,0.0,-0.02, 0.02,0.02,-0.01,0.0,0.02,0.03, 0.03,0.0,0.05,0.03,0.0,0.05, 0.02,0.15,0.05,0.02,0.02,0.0],
 [-0.06,-0.04,-0.02,0.0,0.0,-0.02, 0.01,0.01,-0.01,0.0,0.01,0.0, 0.0,0.0,0.0,0.0,-0.03,0.0, -0.03,0.05,-0.05,-0.02,-0.02,-0.02]
];
const u20_rapa_vu_mean = [-0.21,-0.19,-0.17,-0.11,-0.13,-0.11, -0.06,-0.17,-0.21,-0.07,-0.11,-0.01, -0.13,-0.07,-0.04,-0.07,-0.01,0.0, -0.02,-0.02,-0.06,0.07,0.0,-0.07];
const u20_rapa_vu_err = [0.22,0.2,0.18,0.15,0.15,0.18, 0.2,0.18,0.2,0.15,0.15,0.15, 0.12,0.12,0.15,0.12,0.1,0.12, 0.1,0.1,0.08,0.1,0.1,0.1];
const u20_rapa_vu_tone = [0.9,0.15,0.8,0.2,0.7,0.1,0.55,0.65];
const u20_rapa_vu_lines = [
 [0.0,-1.05,0.2,-0.4,0.1,-0.2, 0.3,-0.3,0.0,0.2,-0.4,0.1, -0.2,0.3,0.95,-0.3,0.2,0.0, 0.4,-0.2,0.1,1.1,-0.1,0.2],
 [-0.3,0.1,-0.5,0.0,-0.3,0.0, 0.55,-0.4,-0.9,0.2,-0.3,0.0, -0.4,0.1,-0.2,0.2,-0.3,0.1, 0.0,-0.3,0.0,0.2,-0.1,0.0],
 [-0.7,-0.2,-0.1,0.2,-0.3,0.3, -0.2,0.0,-0.3,0.6,0.0,-0.3, 0.1,-0.2,0.0,-0.4,0.5,-0.2, 0.2,0.0,0.2,-0.2,-0.7,-0.3],
 [-0.1,-0.5,-0.3,-0.2,0.0,-0.5, 0.0,0.2,-0.2,-0.1,0.2,0.3, -0.3,0.0,-0.3,0.1,-0.2,-0.3, 0.1,0.2,-0.3,0.0,0.2,-0.2],
 [-0.4,0.2,-0.2,0.0,0.2,-0.1, -0.3,0.3,-0.1,-0.4,0.1,0.0, 0.2,-0.3,0.2,0.0,-0.1,0.3, -0.2,0.1,-0.2,0.3,0.1,-0.1],
 [-0.2,-0.3,0.0,-0.4,-0.1,0.1, -0.4,-0.2,0.2,-0.3,-0.2,0.1, 0.0,-0.2,-0.1,-0.2,0.1,0.0, -0.2,0.0,0.1,-0.1,0.0,-0.3],
 [-0.3,-0.1,-0.25,-0.05,-0.2,-0.05, -0.15,-0.1,-0.3,0.0,-0.2,0.05, -0.2,0.0,-0.1,-0.1,0.05,-0.05, 0.05,-0.1,0.0,0.1,-0.05,-0.1],
 [-0.1,-0.3,-0.1,-0.2,-0.05,-0.2, 0.0,-0.25,-0.1,-0.15,0.0,-0.1, -0.05,-0.15,0.0,-0.05,-0.1,0.05, -0.1,0.05,-0.1,0.05,0.05,-0.05]
];

// ---------- assemble ----------
const FONT = '"Liberation Sans", Arial, Helvetica, sans-serif';
function fc(l, m, e, t) { return {l: l, m: m, e: e, t: t}; }
const panels = [
  {title: panelNames[0], pc: 0, pr: 0, yRange: yRange_5, yTicks: yTicks_5, yMinor: yMinor_5,
   f: [[fc(u5_ctrl_wt_lines,u5_ctrl_wt_mean,u5_ctrl_wt_err,u5_ctrl_wt_tone), fc(u5_ctrl_vu_lines,u5_ctrl_vu_mean,u5_ctrl_vu_err,u5_ctrl_vu_tone)],
       [fc(u5_rapa_wt_lines,u5_rapa_wt_mean,u5_rapa_wt_err,u5_rapa_wt_tone), fc(u5_rapa_vu_lines,u5_rapa_vu_mean,u5_rapa_vu_err,u5_rapa_vu_tone)]]},
  {title: panelNames[1], pc: 1, pr: 0, yRange: yRange_10, yTicks: yTicks_10, yMinor: yMinor_10,
   f: [[fc(u10_ctrl_wt_lines,u10_ctrl_wt_mean,u10_ctrl_wt_err,u10_ctrl_wt_tone), fc(u10_ctrl_vu_lines,u10_ctrl_vu_mean,u10_ctrl_vu_err,u10_ctrl_vu_tone)],
       [fc(u10_rapa_wt_lines,u10_rapa_wt_mean,u10_rapa_wt_err,u10_rapa_wt_tone), fc(u10_rapa_vu_lines,u10_rapa_vu_mean,u10_rapa_vu_err,u10_rapa_vu_tone)]]},
  {title: panelNames[2], pc: 0, pr: 1, yRange: yRange_15, yTicks: yTicks_15, yMinor: yMinor_15,
   f: [[fc(u15_ctrl_wt_lines,u15_ctrl_wt_mean,u15_ctrl_wt_err,u15_ctrl_wt_tone), fc(u15_ctrl_vu_lines,u15_ctrl_vu_mean,u15_ctrl_vu_err,u15_ctrl_vu_tone)],
       [fc(u15_rapa_wt_lines,u15_rapa_wt_mean,u15_rapa_wt_err,u15_rapa_wt_tone), fc(u15_rapa_vu_lines,u15_rapa_vu_mean,u15_rapa_vu_err,u15_rapa_vu_tone)]]},
  {title: panelNames[3], pc: 1, pr: 1, yRange: yRange_20, yTicks: yTicks_20, yMinor: yMinor_20,
   f: [[fc(u20_ctrl_wt_lines,u20_ctrl_wt_mean,u20_ctrl_wt_err,u20_ctrl_wt_tone), fc(u20_ctrl_vu_lines,u20_ctrl_vu_mean,u20_ctrl_vu_err,u20_ctrl_vu_tone)],
       [fc(u20_rapa_wt_lines,u20_rapa_wt_mean,u20_rapa_wt_err,u20_rapa_wt_tone), fc(u20_rapa_vu_lines,u20_rapa_vu_mean,u20_rapa_vu_err,u20_rapa_vu_tone)]]}
];

// layout (pixels)
const colLeft = [[77, 306], [641, 870]];
const facetW = 223;
const rowTop = [[53, 225], [496, 665]];
const facetH = [166, 164];
const titleX = [12, 593];
const titleY = [25, 466];
const headerY = [40, 479];

const LOW = [0x13, 0x2B, 0x43], HIGH = [0x56, 0xB1, 0xF7];
function toneColor(t, a) {
  const c = LOW.map((v, i) => Math.round(v + (HIGH[i] - v) * t));
  return 'rgba(' + c[0] + ',' + c[1] + ',' + c[2] + ',' + a + ')';
}
const minusFmt = v => String(v).replace('-', '\u2212');

const grids = [], xAxes = [], yAxes = [], series = [], graphics = [];
const richLab = {
  m: {fontSize: 18, fontStyle: 'italic', fontFamily: FONT, fill: '#000', lineHeight: 22},
  s: {fontSize: 12.5, fontStyle: 'italic', fontFamily: FONT, fill: '#000', lineHeight: 13, verticalAlign: 'top'}
};

panels.forEach(p => {
  graphics.push({type: 'text', x: titleX[p.pc], y: titleY[p.pr],
    style: {text: p.title, fontSize: 30, fontFamily: FONT, fill: '#000', verticalAlign: 'middle'}});
  const ylx = colLeft[p.pc][0] - 24;
  const yly = (rowTop[p.pr][0] + facetH[p.pr] + rowTop[p.pr][1]) / 2;
  graphics.push({type: 'text', x: ylx, y: yly, rotation: Math.PI / 2, z: 50,
    style: {text: 'deltaF/F0', fontSize: 20, fontWeight: 'bold', fontFamily: FONT, fill: '#000', align: 'center', verticalAlign: 'middle'}});
  for (let c = 0; c < 2; c++) {
    const left = colLeft[p.pc][c];
    graphics.push({type: 'text', x: left + facetW / 2, y: headerY[p.pr],
      style: {text: colNames[c], fontSize: 31, fontFamily: FONT, fill: '#000', align: 'center', verticalAlign: 'middle'}});
    for (let r = 0; r < 2; r++) {
      const top = rowTop[p.pr][r], h = facetH[p.pr];
      const gi = grids.length;
      grids.push({left: left, top: top, width: facetW, height: h, show: true,
        borderColor: '#8c8c8c', borderWidth: 1, backgroundColor: 'rgba(0,0,0,0)', containLabel: false});
      xAxes.push({gridIndex: gi, type: 'value', min: xRange[0], max: xRange[1], position: 'bottom',
        axisLine: {show: r === 1, onZero: false, lineStyle: {color: '#000', width: 3}},
        axisTick: {show: false, customValues: xTicks},
        axisLabel: {show: r === 1, customValues: xTicks, rotate: 30, align: 'center', verticalAlign: 'middle',
          margin: 13, color: '#4d4d4d', fontSize: 16, fontFamily: FONT},
        splitLine: {show: true, lineStyle: {color: '#e2e2e2', width: 1.1}},
        name: r === 1 ? 'Time (s)' : '', nameLocation: 'middle', nameGap: 32,
        nameTextStyle: {fontSize: 20, fontWeight: 'bold', color: '#000', fontFamily: FONT}, z: 1});
      xAxes.push({gridIndex: gi, type: 'value', min: xRange[0], max: xRange[1], position: 'bottom',
        axisLine: {show: false}, axisTick: {show: false, customValues: xMinorTicks},
        axisLabel: {show: false, customValues: xMinorTicks},
        splitLine: {show: true, lineStyle: {color: '#f0f0f0', width: 0.8}}, z: 0});
      yAxes.push({gridIndex: gi, type: 'value', min: p.yRange[0], max: p.yRange[1], position: 'left',
        axisLine: {show: c === 0, onZero: false, lineStyle: {color: '#000', width: 3}},
        axisTick: {show: false, customValues: p.yTicks},
        axisLabel: {show: c === 0, customValues: p.yTicks, margin: 4, color: '#4d4d4d', fontSize: 15,
          fontFamily: FONT, formatter: minusFmt},
        splitLine: {show: true, lineStyle: {color: '#e2e2e2', width: 1.1}}, z: 1});
      yAxes.push({gridIndex: gi, type: 'value', min: p.yRange[0], max: p.yRange[1], position: 'left',
        axisLine: {show: false}, axisTick: {show: false, customValues: p.yMinor},
        axisLabel: {show: false, customValues: p.yMinor},
        splitLine: {show: true, lineStyle: {color: '#f0f0f0', width: 0.8}}, z: 0});
      const fd = p.f[c][r];
      const xi = 2 * gi, yi = 2 * gi;
      fd.l.forEach((vals, k) => {
        series.push({type: 'line', xAxisIndex: xi, yAxisIndex: yi, silent: true, animation: false,
          symbol: 'none', data: times.map((t, i) => [t, vals[i]]),
          lineStyle: {color: toneColor(fd.t[k], 0.55), width: 1.4}, z: 2});
      });
      series.push({type: 'line', xAxisIndex: xi, yAxisIndex: yi, silent: true, animation: false,
        symbol: 'none', data: times.map((t, i) => [t, fd.m[i]]),
        lineStyle: {color: '#000', width: 3.2}, z: 4});
      series.push({type: 'custom', xAxisIndex: xi, yAxisIndex: yi, silent: true, animation: false, z: 5,
        data: times.map((t, i) => [t, fd.m[i] - fd.e[i], fd.m[i] + fd.e[i]]),
        encode: {x: 0, y: [1, 2]},
        renderItem: (params, api) => {
          const x = api.value(0);
          const a = api.coord([x, api.value(1)]), b = api.coord([x, api.value(2)]);
          const w = 3, st = {stroke: '#000', lineWidth: 1.4};
          return {type: 'group', children: [
            {type: 'line', shape: {x1: a[0], y1: a[1], x2: b[0], y2: b[1]}, style: st},
            {type: 'line', shape: {x1: a[0] - w, y1: a[1], x2: a[0] + w, y2: a[1]}, style: st},
            {type: 'line', shape: {x1: b[0] - w, y1: b[1], x2: b[0] + w, y2: b[1]}, style: st}
          ]};
        }});
      const sup = r === 0 ? '+/+' : 'vu242/vu242';
      graphics.push({type: 'text', x: left + 4, y: top + 6.5, z: 100,
        style: {text: '{m|tsc2}{s|' + sup + '}', rich: richLab, align: 'left', verticalAlign: 'top'}});
    }
  }
});

const chart = echarts.init(document.getElementById('c'), null, {renderer: 'canvas'});
chart.setOption({
  animation: false,
  backgroundColor: '#ffffff',
  grid: grids, xAxis: xAxes, yAxis: yAxes, series: series,
  graphic: {elements: graphics}
});
</script></body></html>
